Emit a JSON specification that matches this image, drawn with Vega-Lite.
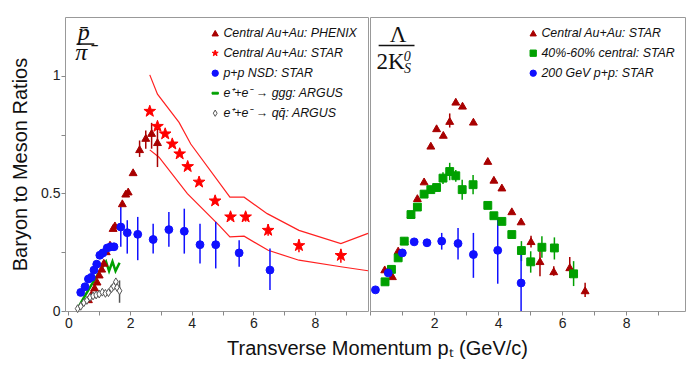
{
  "$schema": "https://vega.github.io/schema/vega-lite/v6.json",
  "background": "white",
  "padding": {"left": 10, "top": 16, "right": 2, "bottom": 2},
  "spacing": 2,
  "bounds": "flush",
  "config": {
    "view": {"stroke": "#999999", "strokeWidth": 1},
    "axis": {
      "domain": false, "grid": false,
      "tickSize": 4, "tickColor": "#888888", "tickWidth": 1,
      "labelFont": "Liberation Sans", "labelFontSize": 14, "labelColor": "#222222", "labelPadding": 1,
      "titleFont": "Liberation Sans", "titleFontSize": 20, "titleFontWeight": "normal", "titleColor": "#111111"
    },
    "legend": {
      "orient": "top-right", "offset": 10, "padding": 0, "title": null,
      "labelFont": "Liberation Sans", "labelFontStyle": "italic", "labelFontSize": 12.4, "labelColor": "#111111",
      "symbolSize": 40, "rowPadding": 7, "labelOffset": 2, "symbolStrokeWidth": 1
    }
  },
  "datasets": {
    "left": [
      {"s": "Central Au+Au: PHENIX", "pT": 0.65, "v": 0.05},
      {"s": "Central Au+Au: PHENIX", "pT": 0.75, "v": 0.072},
      {"s": "Central Au+Au: PHENIX", "pT": 0.85, "v": 0.10},
      {"s": "Central Au+Au: PHENIX", "pT": 0.93, "v": 0.125},
      {"s": "Central Au+Au: PHENIX", "pT": 1.0, "v": 0.155},
      {"s": "Central Au+Au: PHENIX", "pT": 1.08, "v": 0.18},
      {"s": "Central Au+Au: PHENIX", "pT": 1.15, "v": 0.205},
      {"s": "Central Au+Au: PHENIX", "pT": 1.23, "v": 0.254},
      {"s": "Central Au+Au: PHENIX", "pT": 1.35, "v": 0.282},
      {"s": "Central Au+Au: PHENIX", "pT": 1.45, "v": 0.353},
      {"s": "Central Au+Au: PHENIX", "pT": 1.51, "v": 0.364},
      {"s": "Central Au+Au: PHENIX", "pT": 1.75, "v": 0.458},
      {"s": "Central Au+Au: PHENIX", "pT": 1.86, "v": 0.499},
      {"s": "Central Au+Au: PHENIX", "pT": 1.94, "v": 0.508},
      {"s": "Central Au+Au: PHENIX", "pT": 2.10, "v": 0.590},
      {"s": "Central Au+Au: PHENIX", "pT": 2.31, "v": 0.688, "lo": 0.655, "hi": 0.725},
      {"s": "Central Au+Au: PHENIX", "pT": 2.51, "v": 0.736, "lo": 0.69, "hi": 0.767},
      {"s": "Central Au+Au: PHENIX", "pT": 2.70, "v": 0.757, "lo": 0.69, "hi": 0.80},
      {"s": "Central Au+Au: PHENIX", "pT": 2.89, "v": 0.718, "lo": 0.612, "hi": 0.774},
      {"s": "Central Au+Au: STAR", "pT": 2.64, "v": 0.849},
      {"s": "Central Au+Au: STAR", "pT": 2.89, "v": 0.785},
      {"s": "Central Au+Au: STAR", "pT": 3.14, "v": 0.753},
      {"s": "Central Au+Au: STAR", "pT": 3.37, "v": 0.710},
      {"s": "Central Au+Au: STAR", "pT": 3.61, "v": 0.668},
      {"s": "Central Au+Au: STAR", "pT": 3.87, "v": 0.614},
      {"s": "Central Au+Au: STAR", "pT": 4.24, "v": 0.548},
      {"s": "Central Au+Au: STAR", "pT": 4.76, "v": 0.468},
      {"s": "Central Au+Au: STAR", "pT": 5.26, "v": 0.400},
      {"s": "Central Au+Au: STAR", "pT": 5.75, "v": 0.400, "lo": 0.38, "hi": 0.42},
      {"s": "Central Au+Au: STAR", "pT": 6.48, "v": 0.343, "lo": 0.32, "hi": 0.37},
      {"s": "Central Au+Au: STAR", "pT": 7.48, "v": 0.278, "lo": 0.25, "hi": 0.305},
      {"s": "Central Au+Au: STAR", "pT": 8.84, "v": 0.236, "lo": 0.205, "hi": 0.265},
      {"s": "p+p NSD: STAR", "pT": 0.40, "v": 0.079},
      {"s": "p+p NSD: STAR", "pT": 0.54, "v": 0.103},
      {"s": "p+p NSD: STAR", "pT": 0.65, "v": 0.136},
      {"s": "p+p NSD: STAR", "pT": 0.74, "v": 0.143},
      {"s": "p+p NSD: STAR", "pT": 0.83, "v": 0.174},
      {"s": "p+p NSD: STAR", "pT": 0.92, "v": 0.199},
      {"s": "p+p NSD: STAR", "pT": 1.02, "v": 0.237},
      {"s": "p+p NSD: STAR", "pT": 1.12, "v": 0.247},
      {"s": "p+p NSD: STAR", "pT": 1.26, "v": 0.268},
      {"s": "p+p NSD: STAR", "pT": 1.37, "v": 0.273},
      {"s": "p+p NSD: STAR", "pT": 1.48, "v": 0.273},
      {"s": "p+p NSD: STAR", "pT": 1.70, "v": 0.357, "lo": 0.273, "hi": 0.442},
      {"s": "p+p NSD: STAR", "pT": 1.91, "v": 0.333, "lo": 0.244, "hi": 0.386},
      {"s": "p+p NSD: STAR", "pT": 2.25, "v": 0.326, "lo": 0.216, "hi": 0.40},
      {"s": "p+p NSD: STAR", "pT": 2.75, "v": 0.304, "lo": 0.244, "hi": 0.371},
      {"s": "p+p NSD: STAR", "pT": 3.26, "v": 0.346, "lo": 0.273, "hi": 0.421},
      {"s": "p+p NSD: STAR", "pT": 3.76, "v": 0.339, "lo": 0.244, "hi": 0.435},
      {"s": "p+p NSD: STAR", "pT": 4.27, "v": 0.282, "lo": 0.202, "hi": 0.371},
      {"s": "p+p NSD: STAR", "pT": 4.78, "v": 0.282, "lo": 0.181, "hi": 0.379},
      {"s": "p+p NSD: STAR", "pT": 5.54, "v": 0.247, "lo": 0.188, "hi": 0.301},
      {"s": "p+p NSD: STAR", "pT": 6.54, "v": 0.174, "lo": 0.089, "hi": 0.266},
      {"s": "e⁺+e⁻ → qq̄: ARGUS", "pT": 0.3, "v": 0.01},
      {"s": "e⁺+e⁻ → qq̄: ARGUS", "pT": 0.4, "v": 0.02},
      {"s": "e⁺+e⁻ → qq̄: ARGUS", "pT": 0.5, "v": 0.035},
      {"s": "e⁺+e⁻ → qq̄: ARGUS", "pT": 0.6, "v": 0.045},
      {"s": "e⁺+e⁻ → qq̄: ARGUS", "pT": 0.7, "v": 0.058},
      {"s": "e⁺+e⁻ → qq̄: ARGUS", "pT": 0.8, "v": 0.064},
      {"s": "e⁺+e⁻ → qq̄: ARGUS", "pT": 0.9, "v": 0.068},
      {"s": "e⁺+e⁻ → qq̄: ARGUS", "pT": 1.0, "v": 0.072},
      {"s": "e⁺+e⁻ → qq̄: ARGUS", "pT": 1.1, "v": 0.08},
      {"s": "e⁺+e⁻ → qq̄: ARGUS", "pT": 1.2, "v": 0.075},
      {"s": "e⁺+e⁻ → qq̄: ARGUS", "pT": 1.3, "v": 0.078},
      {"s": "e⁺+e⁻ → qq̄: ARGUS", "pT": 1.4, "v": 0.095},
      {"s": "e⁺+e⁻ → qq̄: ARGUS", "pT": 1.47, "v": 0.105},
      {"s": "e⁺+e⁻ → qq̄: ARGUS", "pT": 1.54, "v": 0.124},
      {"s": "e⁺+e⁻ → qq̄: ARGUS", "pT": 1.58, "v": 0.10},
      {"s": "e⁺+e⁻ → qq̄: ARGUS", "pT": 1.66, "v": 0.086, "lo": 0.035, "hi": 0.13}
    ],
    "ggg": [
      {"pT": 0.3, "v": 0.01},
      {"pT": 0.45, "v": 0.045},
      {"pT": 0.7, "v": 0.10},
      {"pT": 0.95, "v": 0.155},
      {"pT": 1.12, "v": 0.19},
      {"pT": 1.22, "v": 0.21},
      {"pT": 1.32, "v": 0.17},
      {"pT": 1.43, "v": 0.21},
      {"pT": 1.53, "v": 0.17},
      {"pT": 1.66, "v": 0.205}
    ],
    "band": [
      {"b": "up", "pT": 2.64, "v": 1.004},
      {"b": "up", "pT": 2.89, "v": 0.922},
      {"b": "up", "pT": 3.59, "v": 0.802},
      {"b": "up", "pT": 3.97, "v": 0.710},
      {"b": "up", "pT": 5.24, "v": 0.484},
      {"b": "up", "pT": 5.70, "v": 0.484},
      {"b": "up", "pT": 6.45, "v": 0.414},
      {"b": "up", "pT": 7.48, "v": 0.343},
      {"b": "up", "pT": 8.84, "v": 0.287},
      {"b": "up", "pT": 9.72, "v": 0.33},
      {"b": "low", "pT": 2.64, "v": 0.685},
      {"b": "low", "pT": 2.94, "v": 0.654},
      {"b": "low", "pT": 3.86, "v": 0.499},
      {"b": "low", "pT": 4.89, "v": 0.364},
      {"b": "low", "pT": 5.24, "v": 0.315},
      {"b": "low", "pT": 5.70, "v": 0.318},
      {"b": "low", "pT": 6.48, "v": 0.258},
      {"b": "low", "pT": 7.48, "v": 0.216},
      {"b": "low", "pT": 8.84, "v": 0.188},
      {"b": "low", "pT": 9.72, "v": 0.171}
    ],
    "right": [
      {"s": "Central Au+Au: STAR", "pT": 0.46, "v": 0.177},
      {"s": "Central Au+Au: STAR", "pT": 0.70, "v": 0.148},
      {"s": "Central Au+Au: STAR", "pT": 0.88, "v": 0.257},
      {"s": "Central Au+Au: STAR", "pT": 1.07, "v": 0.297},
      {"s": "Central Au+Au: STAR", "pT": 1.28, "v": 0.410},
      {"s": "Central Au+Au: STAR", "pT": 1.48, "v": 0.480},
      {"s": "Central Au+Au: STAR", "pT": 1.69, "v": 0.551},
      {"s": "Central Au+Au: STAR", "pT": 1.90, "v": 0.703},
      {"s": "Central Au+Au: STAR", "pT": 2.08, "v": 0.777},
      {"s": "Central Au+Au: STAR", "pT": 2.29, "v": 0.749},
      {"s": "Central Au+Au: STAR", "pT": 2.49, "v": 0.808, "lo": 0.78, "hi": 0.84},
      {"s": "Central Au+Au: STAR", "pT": 2.68, "v": 0.890},
      {"s": "Central Au+Au: STAR", "pT": 2.89, "v": 0.873},
      {"s": "Central Au+Au: STAR", "pT": 3.23, "v": 0.805},
      {"s": "Central Au+Au: STAR", "pT": 3.68, "v": 0.638},
      {"s": "Central Au+Au: STAR", "pT": 3.87, "v": 0.558},
      {"s": "Central Au+Au: STAR", "pT": 4.12, "v": 0.525},
      {"s": "Central Au+Au: STAR", "pT": 4.43, "v": 0.424},
      {"s": "Central Au+Au: STAR", "pT": 4.72, "v": 0.381},
      {"s": "Central Au+Au: STAR", "pT": 5.03, "v": 0.297, "lo": 0.27, "hi": 0.32},
      {"s": "Central Au+Au: STAR", "pT": 5.31, "v": 0.212, "lo": 0.148, "hi": 0.28},
      {"s": "Central Au+Au: STAR", "pT": 5.74, "v": 0.169, "lo": 0.15, "hi": 0.19},
      {"s": "Central Au+Au: STAR", "pT": 6.24, "v": 0.186, "lo": 0.14, "hi": 0.23},
      {"s": "Central Au+Au: STAR", "pT": 6.72, "v": 0.088, "lo": 0.06, "hi": 0.12},
      {"s": "40%-60% central: STAR", "pT": 0.47, "v": 0.124},
      {"s": "40%-60% central: STAR", "pT": 0.67, "v": 0.177},
      {"s": "40%-60% central: STAR", "pT": 0.88, "v": 0.226},
      {"s": "40%-60% central: STAR", "pT": 1.07, "v": 0.297},
      {"s": "40%-60% central: STAR", "pT": 1.28, "v": 0.410},
      {"s": "40%-60% central: STAR", "pT": 1.48, "v": 0.442},
      {"s": "40%-60% central: STAR", "pT": 1.69, "v": 0.497},
      {"s": "40%-60% central: STAR", "pT": 1.90, "v": 0.516},
      {"s": "40%-60% central: STAR", "pT": 2.08, "v": 0.525},
      {"s": "40%-60% central: STAR", "pT": 2.28, "v": 0.565, "lo": 0.54, "hi": 0.59},
      {"s": "40%-60% central: STAR", "pT": 2.49, "v": 0.593, "lo": 0.556, "hi": 0.63},
      {"s": "40%-60% central: STAR", "pT": 2.68, "v": 0.575, "lo": 0.55, "hi": 0.60},
      {"s": "40%-60% central: STAR", "pT": 2.88, "v": 0.516, "lo": 0.473, "hi": 0.558},
      {"s": "40%-60% central: STAR", "pT": 3.22, "v": 0.537, "lo": 0.496, "hi": 0.578},
      {"s": "40%-60% central: STAR", "pT": 3.68, "v": 0.449},
      {"s": "40%-60% central: STAR", "pT": 3.87, "v": 0.405},
      {"s": "40%-60% central: STAR", "pT": 4.12, "v": 0.381},
      {"s": "40%-60% central: STAR", "pT": 4.43, "v": 0.325},
      {"s": "40%-60% central: STAR", "pT": 4.73, "v": 0.257, "lo": 0.212, "hi": 0.297},
      {"s": "40%-60% central: STAR", "pT": 5.02, "v": 0.209, "lo": 0.163, "hi": 0.254},
      {"s": "40%-60% central: STAR", "pT": 5.37, "v": 0.271, "lo": 0.226, "hi": 0.318},
      {"s": "40%-60% central: STAR", "pT": 5.76, "v": 0.268, "lo": 0.219, "hi": 0.313},
      {"s": "40%-60% central: STAR", "pT": 6.36, "v": 0.158, "lo": 0.106, "hi": 0.212},
      {"s": "200 GeV p+p: STAR", "pT": 0.17, "v": 0.090},
      {"s": "200 GeV p+p: STAR", "pT": 0.57, "v": 0.162},
      {"s": "200 GeV p+p: STAR", "pT": 1.01, "v": 0.247},
      {"s": "200 GeV p+p: STAR", "pT": 1.38, "v": 0.294},
      {"s": "200 GeV p+p: STAR", "pT": 1.78, "v": 0.290},
      {"s": "200 GeV p+p: STAR", "pT": 2.24, "v": 0.297, "lo": 0.261, "hi": 0.332},
      {"s": "200 GeV p+p: STAR", "pT": 2.75, "v": 0.287, "lo": 0.219, "hi": 0.353},
      {"s": "200 GeV p+p: STAR", "pT": 3.23, "v": 0.240, "lo": 0.141, "hi": 0.332},
      {"s": "200 GeV p+p: STAR", "pT": 3.99, "v": 0.258, "lo": 0.116, "hi": 0.395},
      {"s": "200 GeV p+p: STAR", "pT": 4.72, "v": 0.119, "lo": 0.0, "hi": 0.240}
    ],
    "annL": [
      {"t": "p̄", "pT": 0.5, "v": 1.18},
      {"t": "π⁻", "pT": 0.55, "v": 1.095}
    ],
    "fracL": [{"pT": 0.27, "pT2": 0.84, "v": 1.135}],
    "annR": [
      {"t": "Λ", "pT": 0.88, "v": 1.175},
      {"t": "2K", "pT": 0.64, "v": 1.058}
    ],
    "annR2": [
      {"t": "0", "pT": 1.16, "v": 1.078},
      {"t": "S", "pT": 1.17, "v": 1.031}
    ],
    "fracR": [{"pT": 0.27, "pT2": 1.39, "v": 1.129}]
  },
  "resolve": {
    "scale": {"shape": "independent", "fill": "independent", "stroke": "independent"},
    "legend": {"shape": "independent", "fill": "independent", "stroke": "independent"}
  },
  "hconcat": [
    {
      "width": 303,
      "height": 294,
      "encoding": {
        "x": {"field": "pT", "type": "quantitative",
          "scale": {"domain": [-0.11, 9.72], "nice": false, "zero": false},
          "axis": {"values": [0, 1, 2, 3, 4, 5, 6, 7, 8, 9], "format": "d",
            "labelExpr": "datum.value % 2 == 0 ? datum.label : ''",
            "title": "Transverse Momentum pₜ (GeV/c)", "titleX": 312, "titlePadding": 8}},
        "y": {"field": "v", "type": "quantitative",
          "scale": {"domain": [0, 1.25], "nice": false, "zero": false},
          "axis": {"values": [0, 0.25, 0.5, 0.75, 1], "format": ".2~f",
            "labelExpr": "datum.value == 0.25 || datum.value == 0.75 ? '' : datum.label",
            "title": "Baryon to Meson Ratios", "titlePadding": 10}}
      },
      "layer": [
        {
          "data": {"name": "band"},
          "mark": {"type": "line", "color": "#ff2020", "strokeWidth": 1.2},
          "encoding": {"detail": {"field": "b"}}
        },
        {
          "data": {"name": "ggg"},
          "mark": {"type": "line", "color": "#00a000", "strokeWidth": 2.5},
          "encoding": {}
        },
        {
          "data": {"name": "left"},
          "transform": [{"filter": "isValid(datum.lo)"}],
          "mark": {"type": "rule", "strokeWidth": 1.5},
          "encoding": {
            "y": {"field": "lo", "type": "quantitative"},
            "y2": {"field": "hi"},
            "stroke": {"field": "s", "type": "nominal",
              "scale": {"domain": ["Central Au+Au: PHENIX", "Central Au+Au: STAR", "p+p NSD: STAR", "e⁺+e⁻ → ggg: ARGUS", "e⁺+e⁻ → qq̄: ARGUS"],
                "range": ["#a80000", "#ff0000", "#1010ff", "#00a000", "#555555"]}}
          }
        },
        {
          "data": {"name": "left"},
          "transform": [{"filter": "datum.s != 'Central Au+Au: STAR'"}],
          "mark": {"type": "point", "opacity": 1, "strokeWidth": 1, "size": 62},
          "encoding": {
            "shape": {"field": "s", "type": "nominal",
              "scale": {"domain": ["Central Au+Au: PHENIX", "Central Au+Au: STAR", "p+p NSD: STAR", "e⁺+e⁻ → ggg: ARGUS", "e⁺+e⁻ → qq̄: ARGUS"],
                "range": ["triangle-up", "M0,-1L0.235,-0.324L0.951,-0.309L0.38,0.124L0.588,0.809L0,0.4L-0.588,0.809L-0.38,0.124L-0.951,-0.309L-0.235,-0.324Z", "circle", "M-1,-0.3L1,-0.3L1,0.3L-1,0.3Z", "M0,-1L0.6,0L0,1L-0.6,0Z"]}},
            "fill": {"field": "s", "type": "nominal",
              "scale": {"domain": ["Central Au+Au: PHENIX", "Central Au+Au: STAR", "p+p NSD: STAR", "e⁺+e⁻ → ggg: ARGUS", "e⁺+e⁻ → qq̄: ARGUS"],
                "range": ["#a80000", "#ff0000", "#1010ff", "#00a000", "#ffffff"]}},
            "stroke": {"field": "s", "type": "nominal"}
          }
        },
        {
          "data": {"name": "left"},
          "transform": [{"filter": "datum.s == 'Central Au+Au: STAR'"}],
          "mark": {"type": "point", "opacity": 1, "strokeWidth": 1, "size": 150},
          "encoding": {
            "shape": {"field": "s", "type": "nominal"},
            "fill": {"field": "s", "type": "nominal"},
            "stroke": {"field": "s", "type": "nominal"}
          }
        },
        {
          "data": {"name": "annL"},
          "mark": {"type": "text", "font": "Liberation Serif", "fontSize": 24, "fontStyle": "italic", "color": "#111111", "baseline": "middle", "align": "center"},
          "encoding": {"text": {"field": "t"}}
        },
        {
          "data": {"name": "fracL"},
          "mark": {"type": "rule", "color": "#111111", "strokeWidth": 1.5},
          "encoding": {"x2": {"field": "pT2"}}
        }
      ]
    },
    {
      "width": 315,
      "height": 294,
      "encoding": {
        "x": {"field": "pT", "type": "quantitative",
          "scale": {"domain": [0, 9.84], "nice": false, "zero": false},
          "axis": {"values": [0, 1, 2, 3, 4, 5, 6, 7, 8, 9], "format": "d",
            "labelExpr": "datum.value % 2 == 0 && datum.value > 0 ? datum.label : ''",
            "title": null}},
        "y": {"field": "v", "type": "quantitative",
          "scale": {"domain": [0, 1.25], "nice": false, "zero": false},
          "axis": {"values": [0, 0.25, 0.5, 0.75, 1], "labels": false, "ticks": false, "title": null}}
      },
      "layer": [
        {
          "data": {"name": "right"},
          "transform": [{"filter": "isValid(datum.lo)"}],
          "mark": {"type": "rule", "strokeWidth": 1.5},
          "encoding": {
            "y": {"field": "lo", "type": "quantitative"},
            "y2": {"field": "hi"},
            "stroke": {"field": "s", "type": "nominal",
              "scale": {"domain": ["Central Au+Au: STAR", "40%-60% central: STAR", "200 GeV p+p: STAR"],
                "range": ["#a80000", "#00a000", "#1010ff"]}}
          }
        },
        {
          "data": {"name": "right"},
          "mark": {"type": "point", "opacity": 1, "strokeWidth": 1, "size": 62},
          "encoding": {
            "shape": {"field": "s", "type": "nominal",
              "scale": {"domain": ["Central Au+Au: STAR", "40%-60% central: STAR", "200 GeV p+p: STAR"],
                "range": ["triangle-up", "square", "circle"]}},
            "fill": {"field": "s", "type": "nominal",
              "scale": {"domain": ["Central Au+Au: STAR", "40%-60% central: STAR", "200 GeV p+p: STAR"],
                "range": ["#a80000", "#00a000", "#1010ff"]}},
            "stroke": {"field": "s", "type": "nominal"}
          }
        },
        {
          "data": {"name": "annR"},
          "mark": {"type": "text", "font": "Liberation Serif", "fontSize": 23, "color": "#111111", "baseline": "middle", "align": "center"},
          "encoding": {"text": {"field": "t"}}
        },
        {
          "data": {"name": "annR2"},
          "mark": {"type": "text", "font": "Liberation Serif", "fontSize": 14, "fontStyle": "italic", "color": "#111111", "baseline": "middle", "align": "center"},
          "encoding": {"text": {"field": "t"}}
        },
        {
          "data": {"name": "fracR"},
          "mark": {"type": "rule", "color": "#111111", "strokeWidth": 1.5},
          "encoding": {"x2": {"field": "pT2"}}
        }
      ]
    }
  ]
}
